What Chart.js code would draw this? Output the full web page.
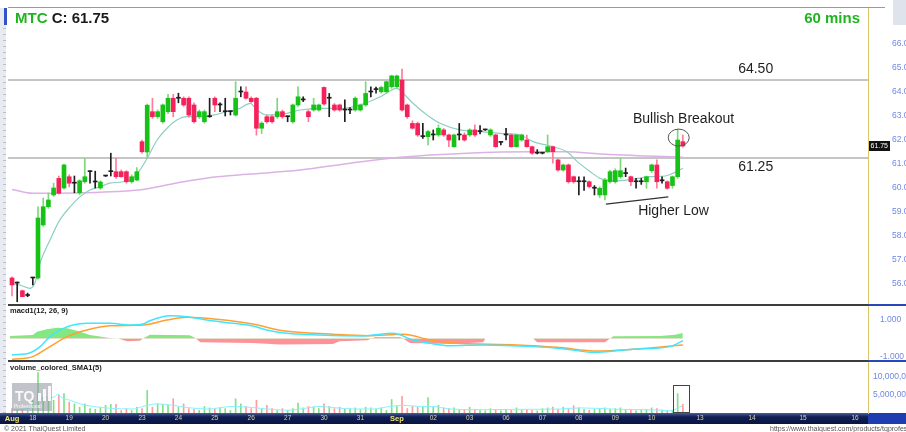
<!DOCTYPE html>
<html>
<head>
<meta charset="utf-8">
<title>MTC 60 mins</title>
<script src="https://cdn.jsdelivr.net/npm/chart.js@4.4.1/dist/chart.umd.min.js"></script>
<style>
  html, body { margin: 0; padding: 0; background: #fff; }
  #wrap { width: 906px; height: 432px; overflow: hidden; }
</style>
</head>
<body>
<div id="wrap"><canvas id="chart" width="906" height="432"></canvas></div>
<script>
// hourly bars (index 0 = first bar, Aug 17)
const opens = [
  56.25,56.04,55.72,55.52,56.25,56.25,58.46,59.22,59.71,60.40,
  60.00,60.47,60.20,59.80,60.26,60.68,60.25,60.00,60.50,60.68,
  60.68,60.68,60.68,60.26,60.33,61.93,61.50,63.18,62.97,62.76,
  63.18,63.74,63.74,63.74,63.74,63.46,62.97,62.76,62.97,63.74,
  63.46,63.18,63.18,63.04,64.00,64.00,63.74,63.74,62.49,62.97,
  62.97,62.97,63.18,62.97,62.76,63.46,63.67,63.18,63.25,63.25,
  64.19,63.74,63.46,63.46,63.25,63.25,63.25,63.25,63.46,64.00,
  64.10,64.01,64.01,64.22,64.22,64.50,63.46,62.69,62.69,62.14,
  62.14,62.21,62.21,62.42,62.21,61.72,62.21,62.21,62.21,62.42,
  62.35,62.42,62.21,62.21,61.90,62.21,62.21,61.72,62.00,62.00,
  61.72,61.45,61.45,61.51,61.72,61.17,60.75,60.96,60.47,60.26,
  60.26,60.26,59.99,59.71,59.71,60.26,60.26,60.47,60.60,60.47,
  60.26,60.26,60.26,60.72,60.96,60.30,60.26,60.10,60.47,61.93];
const highs = [
  56.30,56.08,55.75,55.62,56.28,59.22,59.58,59.79,60.20,60.50,
  61.00,60.55,60.50,60.35,61.24,60.72,60.70,60.30,60.52,61.45,
  61.24,60.75,60.72,60.55,60.85,62.00,63.50,63.74,63.25,63.50,
  63.90,63.90,63.95,63.80,63.80,63.55,63.25,63.25,63.74,63.80,
  63.55,63.74,63.22,64.43,64.22,64.22,63.80,63.78,62.76,63.05,
  63.04,63.74,63.25,63.00,63.50,64.22,63.80,63.25,63.74,63.50,
  64.22,63.94,63.52,63.50,63.67,63.35,63.80,63.50,64.43,64.22,
  64.20,64.25,64.45,64.70,64.70,64.96,63.50,62.80,62.75,62.69,
  62.40,62.42,62.63,62.48,62.25,62.25,62.69,62.30,62.47,62.63,
  62.60,62.45,62.47,62.25,61.92,62.49,62.25,62.25,62.25,62.21,
  61.75,61.60,61.48,62.21,61.75,61.20,61.00,61.00,60.50,60.47,
  60.47,60.30,60.10,60.05,60.40,60.75,60.80,61.24,60.83,60.50,
  60.40,60.40,60.50,61.00,61.17,60.47,60.30,60.50,62.45,62.20];
const lows = [
  55.50,55.26,55.47,55.47,55.96,56.20,58.40,59.15,59.65,59.75,
  59.95,60.05,59.80,59.72,60.20,60.20,60.00,59.95,60.48,60.50,
  60.40,60.45,60.20,60.20,60.30,61.45,61.24,62.90,62.90,62.70,
  63.10,62.97,63.55,63.40,62.95,62.70,62.90,62.70,62.95,63.18,
  63.18,63.00,63.04,63.00,63.80,63.70,63.55,62.20,62.27,62.70,
  62.70,62.90,62.90,62.76,62.70,63.40,63.60,62.76,63.20,63.20,
  63.45,62.97,63.20,63.20,62.76,63.10,63.20,63.20,63.40,63.80,
  63.95,63.95,63.95,64.15,64.15,63.20,62.90,62.45,62.15,62.07,
  61.79,62.00,62.15,62.15,61.72,61.70,62.00,61.95,62.15,62.15,
  62.25,62.40,62.15,61.70,61.79,62.00,61.70,61.70,61.95,61.70,
  61.40,61.42,61.42,61.48,61.03,60.70,60.70,60.20,60.20,59.71,
  59.90,60.00,59.71,59.60,59.50,60.20,60.20,60.40,60.47,60.10,
  59.99,60.15,59.99,60.65,59.99,60.20,59.95,59.99,60.40,61.70];
const closes = [
  55.96,56.04,55.47,55.52,56.25,58.75,59.22,59.50,60.00,59.78,
  60.96,60.20,60.20,60.30,60.47,60.68,60.25,60.25,60.50,60.68,
  60.47,60.47,60.26,60.47,60.68,61.51,63.45,62.97,63.18,63.46,
  63.74,63.18,63.74,63.46,63.04,62.76,63.18,63.18,62.97,63.46,
  63.46,63.18,63.18,63.74,64.00,63.74,63.60,62.49,62.70,62.76,
  62.76,63.18,62.97,62.97,63.46,63.80,63.67,62.97,63.46,63.46,
  63.50,63.74,63.25,63.25,63.25,63.25,63.74,63.46,63.94,64.00,
  64.10,64.19,64.43,64.67,64.67,63.25,62.97,62.49,62.21,62.14,
  62.35,62.21,62.49,62.21,62.00,62.21,62.21,62.00,62.42,62.21,
  62.35,62.42,62.42,61.72,61.90,62.21,61.72,62.21,62.21,61.72,
  61.45,61.45,61.45,61.72,61.51,60.75,60.96,60.26,60.26,60.26,
  60.26,60.06,59.99,59.99,60.33,60.68,60.72,60.72,60.60,60.26,
  60.26,60.26,60.47,60.96,60.26,60.30,59.99,60.47,62.00,61.75];
const volumeMillions = [
  1.2,0.8,1.0,0.6,3.5,11.1,4.4,3.9,3.5,4.9,
  5.3,3.0,2.5,1.6,2.5,1.2,1.0,1.6,2.1,2.4,
  2.4,0.7,1.2,0.7,1.6,1.2,6.2,1.6,2.5,2.4,
  2.1,3.9,1.6,2.5,1.2,1.0,0.7,1.8,1.4,1.2,
  1.4,1.2,0.7,3.9,2.5,1.8,1.2,3.5,1.2,2.1,
  1.2,0.7,1.2,0.7,1.2,2.7,1.4,1.8,1.6,1.2,
  2.5,1.8,1.2,1.6,1.0,1.2,1.4,1.0,1.6,1.4,
  1.0,1.4,0.7,3.7,1.8,4.6,1.2,1.8,1.6,1.8,
  4.2,1.6,2.1,1.4,1.2,1.4,0.8,1.0,1.6,1.0,
  0.8,0.6,1.2,1.0,0.6,1.0,0.8,1.4,0.8,1.0,
  0.7,0.6,1.2,1.4,1.6,1.0,1.6,1.2,2.0,1.4,
  1.0,0.8,1.0,1.2,1.4,1.0,1.2,1.4,0.8,0.8,
  0.6,0.8,1.0,1.4,1.2,0.8,0.6,0.8,5.3,2.4];

// indicator lines, read at bar positions
const smaFastBars = [0,1.5,3.5,4.4,5.4,7.3,9.2,11.2,13.1,15,16.9,18.8,21.3,23.3,24.6,26,27.9,29.8,31.7,33.7,36.2,38.7,41.3,43.8,45.8,47.1,49,52.9,55.4,59.2,63.1,66.9,70.8,74,75.2,77.1,79.8,82.3,86.2,90,93.8,97.7,100.2,104,106.7,108.7,111.2,113.1,116,118.8,122.7,125.6,129];
const smaFastValues = [56.03,55.96,55.82,56.04,56.87,57.83,58.67,59.22,59.64,59.92,60.05,60.2,60.26,60.42,60.75,61.24,62.0,62.49,62.83,62.97,62.97,63.04,63.18,63.32,63.53,63.25,63.04,63.11,63.25,63.32,63.32,63.46,63.8,64.15,63.95,63.53,63.04,62.7,62.42,62.35,62.28,62.21,61.93,61.72,61.51,61.1,60.68,60.4,60.3,60.35,60.47,60.5,60.82];
const smaSlowBars = [0,4,7.3,13.7,20.2,25.2,33,39.4,45.8,55.4,65,74.6,87.5,100.2,106.7,113.1,129];
const smaSlowValues = [59.94,59.78,59.78,59.8,59.85,59.94,60.26,60.47,60.58,60.75,61.03,61.28,61.45,61.51,61.51,61.42,61.28];
const macdBars = [0,3.5,5.4,7.3,9.2,11.7,14.4,18.8,22.7,25.2,26.5,30.4,33.7,37.5,42.5,46.3,49,52.9,59.2,67.5,73.3,77.1,80.4,84.2,90.6,100.2,106.7,111.7,119.4,126.5,129];
const macdValues = [-0.89,-0.77,-0.44,0.1,0.46,0.73,0.82,0.82,0.73,0.78,0.96,1.23,1.18,1.0,0.82,0.68,0.46,0.28,0.19,0.14,0.28,-0.08,-0.26,-0.39,-0.35,-0.44,-0.58,-0.75,-0.58,-0.44,-0.12];
const signalBars = [0,4,7.3,10.6,14.4,18.8,25.2,29.8,33.7,39.4,46.3,52.1,61.7,68.3,75.2,80.4,84.2,97.1,104.8,112.5,119.4,129];
const signalValues = [-1.13,-0.98,-0.44,0.1,0.46,0.69,0.73,1.0,1.15,1.04,0.78,0.42,0.23,0.15,0.23,-0.08,-0.23,-0.35,-0.48,-0.68,-0.58,-0.35];
const histBars = [-0.4,4,4.8,6.7,8.7,10.6,12.5,15,18.8,20.4,22.1,24.6,25.2,26.5,34.2,35.4,36.2,46.3,51.5,61.7,63,68.3,69.2,69.8,74.6,75.2,76.5,84.2,90.6,91,100.2,101,114,115,115.6,124.6,127.5,129];
const histValues = [0.13,0.19,0.37,0.5,0.58,0.55,0.42,0.19,0.02,0,-0.15,-0.12,0,0.2,0.18,0,-0.2,-0.25,-0.32,-0.3,-0.15,-0.1,0,0.08,0.08,0,-0.25,-0.3,-0.2,0,0,-0.2,-0.2,0,0.12,0.14,0.2,0.3];
const volSmaBars = [0.2,4,4.8,6.7,7.9,8.8,9.8,11.2,13.1,15.6,18.8,23.3,25.2,27.9,31,33.7,37.5,42.5,46.3,49,52.9,55.4,59.2,61.7,65.6,69.4,72.7,75.2,78.5,81,84.2,90,97.7,105.4,109.2,116.9,124.6,126.5,129];
const volSmaValues = [0.9,1.6,3.0,4.3,4.3,5.1,4.0,3.5,2.5,1.8,1.3,1.1,1.8,2.5,2.1,1.5,1.1,1.8,1.5,1.1,0.75,1.1,1.8,1.5,1.1,1.1,1.8,2.1,1.8,1.8,1.1,0.9,1.0,1.1,1.4,1.0,0.8,0.6,2.1];

// axes
const dayTickBars = [0,4,11,18,25,32,39,46,53,60,67,74,81,88,95,102,109,116,123,132.3,142.3,152.1,162.1];
const dayTickLabels = ['Aug','18','19','20','23','24','25','26','27','30','31','Sep','02','03','06','07','08','09','10','13','14','15','16'];
const priceTicks = [56,57,58,59,60,61,62,63,64,65,66];
const macdTicks = [-1, 1];
const volumeTicks = [5, 10];

// drawn-on annotations
const levelPrices = [64.5, 61.25];
const higherLowBars = [114.2, 126.2];
const higherLowPrices = [59.33, 59.63];

const X_MIN = -0.77, X_MAX = 164.6;
const FONT = '"Liberation Sans", Arial, Helvetica, sans-serif';

const idx = opens.map((_, i) => i);
const pts = (xs, ys) => xs.map((x, k) => ({x: x, y: ys[k]}));
function tone(i) {
  if (closes[i] > opens[i]) return 'up';
  if (closes[i] < opens[i]) return 'down';
  return 'flat';
}
const bodyColor = {up: '#16c216', down: '#f4225a', flat: '#1e1e1e'};
const wickColor = {up: '#7bd97b', down: '#ff7b9c', flat: '#1e1e1e'};
const volColor = {up: '#84df84', down: '#ff9c9c', flat: '#84df84'};

// no label overhang reserve, the panes fill the frame exactly
const noPad = s => { s.paddingTop = 0; s.paddingBottom = 0; s.paddingLeft = 0; s.paddingRight = 0; };

const decor = {
  id: 'decor',
  beforeDraw(chart) {
    const {ctx, chartArea: a, scales: {x}} = chart;
    ctx.save();
    ctx.fillStyle = '#ffffff';
    ctx.fillRect(0, 0, chart.width, chart.height);
    // left ruler strip
    ctx.fillStyle = '#e7eaf1';
    ctx.fillRect(0, a.top, 6, x.top - a.top);
    ctx.fillStyle = '#b9bfcc';
    for (let y = a.top + 20; y < x.top; y += 6) ctx.fillRect(3, y, 3, 1);
    ctx.fillStyle = '#3553c8';
    ctx.fillRect(4, a.top, 3, 17);
    // date band
    const g = ctx.createLinearGradient(0, x.top, 0, x.bottom);
    g.addColorStop(0, '#4b5f99');
    g.addColorStop(0.35, '#111f55');
    g.addColorStop(1, '#0a1441');
    ctx.fillStyle = g;
    ctx.fillRect(0, x.top, a.right, x.bottom - x.top);
    ctx.fillStyle = '#1f3db0';
    ctx.fillRect(a.right, x.top, chart.width - a.right, x.bottom - x.top);
    // grey block top right
    ctx.fillStyle = '#dfe4ec';
    ctx.fillRect(893, 0, chart.width - 893, 25);
    ctx.restore();
  },
  afterDraw(chart) {
    const {ctx, chartArea: a, scales: {x, yPrice, yMacd, yVol}} = chart;
    ctx.save();
    // frame
    ctx.fillStyle = '#9b9b9b';
    ctx.fillRect(a.left, a.top - 1, 885 - a.left, 1);
    [yMacd.top, yVol.top].forEach(t => {
      ctx.fillStyle = '#3c3c3c';
      ctx.fillRect(a.left, t - 1, a.right - a.left, 2);
      ctx.fillStyle = '#2a46b8';
      ctx.fillRect(a.right, t - 1, chart.width - a.right, 2);
    });

    // title
    ctx.textBaseline = 'alphabetic';
    ctx.textAlign = 'left';
    ctx.font = 'bold 15px ' + FONT;
    ctx.fillStyle = '#1fb51f';
    ctx.fillText('MTC', 15, 23);
    const w = ctx.measureText('MTC ').width;
    ctx.fillStyle = '#1a1a1a';
    ctx.fillText('C: ' + closes[closes.length - 1].toFixed(2), 15 + w, 23);
    ctx.fillStyle = '#1fb51f';
    ctx.textAlign = 'right';
    ctx.fillText('60 mins', 860, 23);

    // level labels
    ctx.font = '14px ' + FONT;
    ctx.fillStyle = '#1e1e1e';
    ctx.textAlign = 'center';
    ctx.fillText(levelPrices[0].toFixed(2), x.getPixelForValue(143), yPrice.getPixelForValue(levelPrices[0]) - 7);
    ctx.fillText(levelPrices[1].toFixed(2), x.getPixelForValue(143), yPrice.getPixelForValue(levelPrices[1]) + 13);
    ctx.textAlign = 'left';
    ctx.fillText('Bullish Breakout', x.getPixelForValue(119.4), yPrice.getPixelForValue(62.5) - 5);
    ctx.fillText('Higher Low', x.getPixelForValue(120.4), yPrice.getPixelForValue(59.5) + 15);

    // ring round the breakout bars
    ctx.strokeStyle = '#555';
    ctx.lineWidth = 1;
    ctx.beginPath();
    ctx.ellipse(x.getPixelForValue(128.2), yPrice.getPixelForValue(62.1), 10.5, 8.5, 0, 0, Math.PI * 2);
    ctx.stroke();

    // box round the breakout volume
    const bx0 = x.getPixelForValue(127.1), bx1 = x.getPixelForValue(130.2);
    const by0 = yVol.getPixelForValue(7.8), by1 = yVol.getPixelForValue(0);
    ctx.strokeStyle = '#444';
    ctx.strokeRect(Math.round(bx0) + 0.5, Math.round(by0) + 0.5, Math.round(bx1 - bx0), Math.round(by1 - by0) - 1);

    // last price tag
    const last = closes[closes.length - 1];
    const ty = yPrice.getPixelForValue(last);
    ctx.fillStyle = '#111';
    ctx.fillRect(a.right + 1, ty - 5, 21, 10);
    ctx.fillStyle = '#fff';
    ctx.font = '7px ' + FONT;
    ctx.textBaseline = 'middle';
    ctx.fillText(last.toFixed(2), a.right + 2.5, ty + 0.5);

    // pane titles
    ctx.textBaseline = 'alphabetic';
    ctx.fillStyle = '#222';
    ctx.font = 'bold 7.5px ' + FONT;
    ctx.fillText('macd1(12, 26, 9)', 10, yMacd.top + 8);
    ctx.fillText('volume_colored_SMA1(5)', 10, yVol.top + 9);

    // watermark
    ctx.fillStyle = 'rgba(140,146,156,0.55)';
    ctx.fillRect(12, 383, 40, 28);
    ctx.fillStyle = 'rgba(255,255,255,0.9)';
    ctx.font = 'bold 14px ' + FONT;
    ctx.fillText('TQ', 15, 401);
    ctx.fillRect(38, 393, 3, 8);
    ctx.fillRect(43, 389, 3, 12);
    ctx.fillRect(48, 386, 3, 15);
    ctx.font = '5px ' + FONT;
    ctx.fillText('Professional', 14, 408);

    // footer
    ctx.fillStyle = '#555';
    ctx.font = '7px ' + FONT;
    ctx.fillText('\u00a9 2021 ThaiQuest Limited', 4, 431);
    ctx.fillText('https://www.thaiquest.com/products/tqprofessional', 770, 431);
    ctx.restore();
  }
};

const rightAxis = (extra) => Object.assign({
  type: 'linear',
  position: 'right',
  stack: 'panes',
  grid: {display: false, drawTicks: false},
  border: {display: true, color: '#dcc86a', dash: [1, 2], width: 1},
  afterFit: s => { s.width = 38; noPad(s); }
}, extra);

new Chart(document.getElementById('chart'), {
  type: 'bar',
  data: {
    datasets: [
      ...levelPrices.map(lv => ({
        type: 'line', yAxisID: 'yPrice', order: 9,
        data: [{x: X_MIN, y: lv}, {x: X_MAX, y: lv}],
        borderColor: '#8c8c8c', borderWidth: 1, pointRadius: 0
      })),
      {
        type: 'line', yAxisID: 'yPrice', order: 8,
        data: pts(smaSlowBars, smaSlowValues),
        borderColor: '#dcb2e6', borderWidth: 1.5, pointRadius: 0, cubicInterpolationMode: 'monotone'
      },
      {
        type: 'line', yAxisID: 'yPrice', order: 7,
        data: pts(smaFastBars, smaFastValues),
        borderColor: '#8ccfc2', borderWidth: 1.2, pointRadius: 0, cubicInterpolationMode: 'monotone'
      },
      {
        type: 'line', yAxisID: 'yPrice', order: 3,
        data: pts(higherLowBars, higherLowPrices),
        borderColor: '#333', borderWidth: 1.2, pointRadius: 0
      },
      {
        label: 'wicks', yAxisID: 'yPrice', order: 2, grouped: false,
        data: idx.map(i => ({x: i, y: [lows[i], highs[i]]})),
        backgroundColor: c => wickColor[tone(c.dataIndex)],
        barThickness: 1, borderWidth: 0
      },
      {
        label: 'bodies', yAxisID: 'yPrice', order: 1, grouped: false,
        data: idx.map(i => ({x: i, y: [opens[i], closes[i]]})),
        backgroundColor: c => bodyColor[tone(c.dataIndex)],
        barThickness: 4, minBarLength: 1, borderWidth: 0
      },
      {
        type: 'line', yAxisID: 'yMacd', order: 6,
        data: pts(histBars, histValues),
        borderWidth: 0, pointRadius: 0,
        fill: {target: 'origin', above: 'rgba(108,228,108,0.85)', below: 'rgba(255,118,128,0.8)'}
      },
      {
        type: 'line', yAxisID: 'yMacd', order: 5,
        data: pts(signalBars, signalValues),
        borderColor: '#ffa030', borderWidth: 1.5, pointRadius: 0, cubicInterpolationMode: 'monotone'
      },
      {
        type: 'line', yAxisID: 'yMacd', order: 4,
        data: pts(macdBars, macdValues),
        borderColor: '#3fe6ff', borderWidth: 1.5, pointRadius: 0, cubicInterpolationMode: 'monotone'
      },
      {
        label: 'volume', yAxisID: 'yVol', order: 5, grouped: false,
        data: idx.map(i => ({x: i, y: volumeMillions[i]})),
        backgroundColor: c => volColor[tone(c.dataIndex)],
        barThickness: 1, borderWidth: 0
      },
      {
        type: 'line', yAxisID: 'yVol', order: 3,
        data: pts(volSmaBars, volSmaValues),
        borderColor: '#86f2ff', borderWidth: 1, pointRadius: 0, cubicInterpolationMode: 'monotone'
      }
    ]
  },
  options: {
    responsive: false,
    devicePixelRatio: 1,
    animation: false,
    events: [],
    layout: {padding: {left: 8, top: 8, right: 0, bottom: 8}},
    plugins: {legend: {display: false}, tooltip: {enabled: false}},
    scales: {
      x: {
        type: 'linear', position: 'bottom', offset: false,
        min: X_MIN, max: X_MAX,
        grid: {display: false, drawTicks: false},
        border: {display: false},
        afterBuildTicks: s => { s.ticks = dayTickBars.map(v => ({value: v})); },
        afterFit: s => { s.height = 11; noPad(s); },
        ticks: {
          autoSkip: false, maxRotation: 0, padding: 1.5,
          callback: (v, k) => dayTickLabels[k],
          color: c => /^[A-Z]/.test(dayTickLabels[c.index]) ? '#f2e46a' : '#d9d2a2',
          font: c => /^[A-Z]/.test(dayTickLabels[c.index])
            ? {family: FONT, size: 7.5, weight: 'bold'}
            : {family: FONT, size: 6.5}
        }
      },
      yPrice: rightAxis({
        stackWeight: 297, min: 55.125, max: 67.5,
        afterBuildTicks: s => { s.ticks = priceTicks.map(v => ({value: v})); },
        ticks: {padding: 24, color: '#7088e2', font: {family: FONT, size: 8.5}, callback: v => v.toFixed(2)}
      }),
      yMacd: rightAxis({
        stackWeight: 56, min: -1.217, max: 1.81,
        afterBuildTicks: s => { s.ticks = macdTicks.map(v => ({value: v})); },
        ticks: {padding: 12, color: '#7088e2', font: {family: FONT, size: 8.5}, callback: v => v.toFixed(3)}
      }),
      yVol: rightAxis({
        stackWeight: 52, min: 0, max: 14.25,
        afterBuildTicks: s => { s.ticks = volumeTicks.map(v => ({value: v})); },
        ticks: {padding: 5, color: '#7088e2', font: {family: FONT, size: 8.5},
          callback: v => (v * 1e6).toLocaleString('en-US')}
      })
    }
  },
  plugins: [decor]
});
</script>
</body>
</html>
